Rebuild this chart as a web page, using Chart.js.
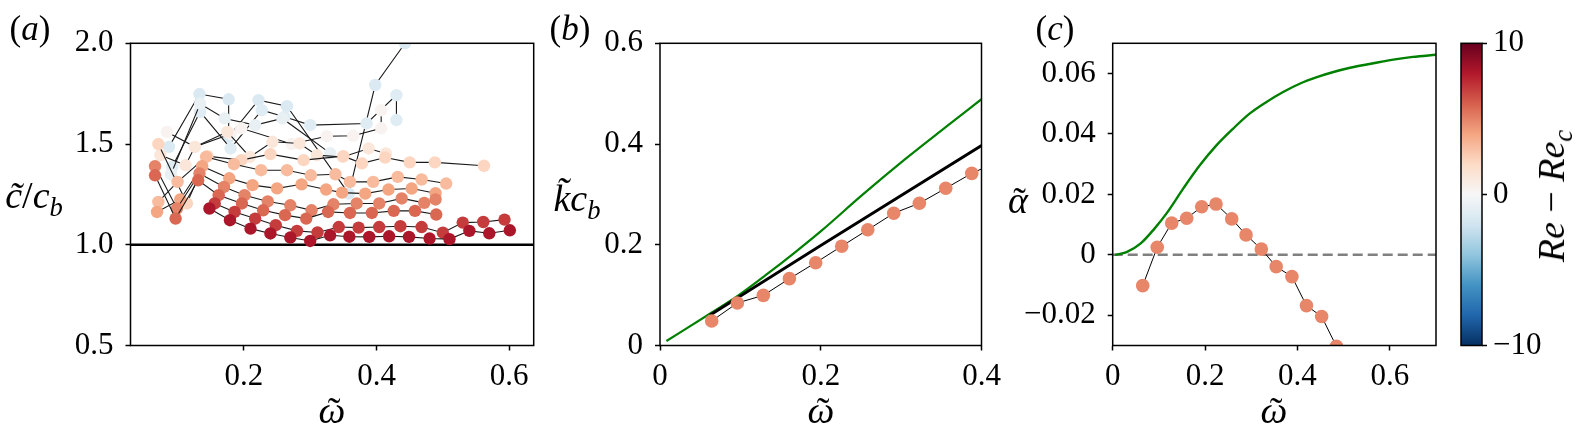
<!DOCTYPE html>
<html>
<head>
<meta charset="utf-8">
<script src="https://cdn.jsdelivr.net/npm/chart.js@4.4.0/dist/chart.umd.min.js"></script>
<style>
html, body { margin: 0; padding: 0; background: #fff; }
#fig { position: relative; width: 1580px; height: 439px; overflow: hidden; font-family: 'Liberation Serif', serif; color: #000; }
.cv { position: absolute; top: 0; height: 439px; }
.lab { position: absolute; transform: translate(-50%, -50%); white-space: nowrap; line-height: 1; }
.panel { font-size: 35px; }
.ax { font-size: 38px; }
.rot { transform: translate(-50%, -50%) rotate(-90deg); }
sub { font-size: 0.7em; vertical-align: -0.3em; line-height: 0; }
.tl { position: relative; display: inline-block; }
.tl .t { position: absolute; left: 58%; top: 0.02em; transform: translateX(-50%); font-style: normal; }
</style>
</head>
<body>
<div id="fig">
  <div class="cv" style="left:0px;width:560px"><canvas id="chartA"></canvas></div>
  <div class="cv" style="left:540px;width:470px"><canvas id="chartB"></canvas></div>
  <div class="cv" style="left:990px;width:470px"><canvas id="chartC"></canvas></div>
  <div class="cv" style="left:1440px;width:140px"><canvas id="chartCb"></canvas></div>

  <div class="lab panel" style="left:30px;top:28px">(<i>a</i>)</div>
  <div class="lab panel" style="left:570px;top:28px">(<i>b</i>)</div>
  <div class="lab panel" style="left:1055px;top:28px">(<i>c</i>)</div>

  <div class="lab ax" style="left:34px;top:195px"><i>c&#771;</i>/<i>c</i><sub><i>b</i></sub></div>
  <div class="lab ax" style="left:577px;top:198px"><i>k&#771;c</i><sub><i>b</i></sub></div>
  <div class="lab ax" style="left:1018px;top:200px"><span class="tl"><i>&#945;</i><span class="t">&#732;</span></span></div>

  <div class="lab ax" style="left:332px;top:410px"><span class="tl"><i>&#969;</i><span class="t">&#732;</span></span></div>
  <div class="lab ax" style="left:821px;top:410px"><span class="tl"><i>&#969;</i><span class="t">&#732;</span></span></div>
  <div class="lab ax" style="left:1274px;top:410px"><span class="tl"><i>&#969;</i><span class="t">&#732;</span></span></div>

  <div class="lab ax rot" style="left:1551px;top:196px"><i>Re</i> &#8722; <i>Re</i><sub><i>c</i></sub></div>
</div>

<script>
// ---- panel (a): phase speed vs frequency, one series per Re - Re_c ----
const aSeriesRe = [8.2, 7.0, 5.8, 5.0, 4.0, 3.2, 2.2, 1.2, 0.3, -0.8, -1.2, -1.5];
const aOmega = [
    [0.148, 0.179, 0.210, 0.240, 0.270, 0.300, 0.330, 0.359, 0.389, 0.419, 0.449, 0.480, 0.510, 0.540, 0.570, 0.601],
    [0.156, 0.186, 0.217, 0.248, 0.280, 0.311, 0.343, 0.373, 0.404, 0.436, 0.468, 0.500, 0.530, 0.561, 0.593],
    [0.066, 0.097, 0.131, 0.162, 0.197, 0.229, 0.262, 0.294, 0.327, 0.360, 0.393, 0.426, 0.458, 0.490],
    [0.066, 0.099, 0.133, 0.170, 0.201, 0.236, 0.270, 0.302, 0.335, 0.370, 0.404, 0.438, 0.472, 0.489],
    [0.069, 0.104, 0.137, 0.178, 0.213, 0.250, 0.287, 0.324, 0.348, 0.383, 0.418, 0.453, 0.489],
    [0.071, 0.100, 0.143, 0.185, 0.226, 0.265, 0.301, 0.338, 0.360, 0.395, 0.432, 0.468, 0.505],
    [0.071, 0.114, 0.145, 0.196, 0.240, 0.290, 0.350, 0.378, 0.413, 0.450, 0.488, 0.562],
    [0.074, 0.112, 0.126, 0.175, 0.209, 0.243, 0.284, 0.310, 0.349, 0.388, 0.414],
    [0.084, 0.126, 0.180, 0.196, 0.272, 0.325, 0.365, 0.407, 0.407],
    [0.090, 0.134, 0.171, 0.217, 0.258, 0.330],
    [0.092, 0.134, 0.180, 0.227, 0.261, 0.300, 0.385, 0.430, 0.430],
    [0.087, 0.133, 0.177, 0.177, 0.222, 0.265, 0.358, 0.398, 0.443]
];
const aSpeed = [
    [1.180, 1.122, 1.080, 1.056, 1.036, 1.019, 1.047, 1.040, 1.039, 1.042, 1.039, 1.031, 1.028, 1.069, 1.057, 1.072],
    [1.205, 1.163, 1.130, 1.097, 1.069, 1.061, 1.088, 1.085, 1.088, 1.092, 1.088, 1.060, 1.110, 1.113, 1.125],
    [1.345, 1.130, 1.320, 1.246, 1.205, 1.171, 1.147, 1.130, 1.163, 1.158, 1.158, 1.168, 1.168, 1.150],
    [1.390, 1.180, 1.354, 1.287, 1.246, 1.215, 1.196, 1.171, 1.201, 1.205, 1.205, 1.230, 1.208, 1.225],
    [1.163, 1.225, 1.390, 1.330, 1.296, 1.280, 1.300, 1.274, 1.259, 1.254, 1.274, 1.279, 1.256],
    [1.213, 1.312, 1.436, 1.400, 1.370, 1.370, 1.345, 1.350, 1.312, 1.312, 1.337, 1.324, 1.304],
    [1.500, 1.205, 1.440, 1.420, 1.450, 1.420, 1.440, 1.404, 1.433, 1.409, 1.409, 1.392],
    [1.445, 1.395, 1.486, 1.560, 1.436, 1.511, 1.503, 1.445, 1.436, 1.478, 1.453],
    [1.560, 1.486, 1.550, 1.578, 1.500, 1.539, 1.541, 1.578, 1.668],
    [1.350, 1.700, 1.627, 1.594, 1.627, 1.455],
    [1.387, 1.660, 1.478, 1.668, 1.635, 1.594, 1.602, 1.743, 1.619],
    [1.486, 1.748, 1.722, 1.536, 1.718, 1.688, 1.254, 1.793, 2.000]
];
const aTickX = [0.2, 0.4, 0.6];
const aTickXLabels = ['0.2', '0.4', '0.6'];
const aTickY = [0.5, 1.0, 1.5, 2.0];
const aTickYLabels = ['0.5', '1.0', '1.5', '2.0'];

// ---- panel (b): wavenumber ----
const bOmega = [0.0643, 0.0962, 0.1286, 0.161, 0.1937, 0.2261, 0.2585, 0.2908, 0.3227, 0.3555, 0.3879, 0.42];
const bK = [0.0487, 0.0844, 0.0996, 0.1327, 0.1644, 0.1972, 0.2297, 0.2626, 0.2824, 0.3121, 0.3418, 0.365];
const bBlackOmega = [0.062, 0.2, 0.4];
const bBlackK = [0.060, 0.1985, 0.397];
const bGreenOmega = [0.008, 0.064, 0.098, 0.131, 0.168, 0.201, 0.251, 0.305, 0.355, 0.4];
const bGreenK = [0.009, 0.065, 0.100, 0.139, 0.185, 0.228, 0.298, 0.370, 0.433, 0.489];
const bTickX = [0, 0.2, 0.4];
const bTickXLabels = ['0', '0.2', '0.4'];
const bTickY = [0, 0.2, 0.4, 0.6];
const bTickYLabels = ['0', '0.2', '0.4', '0.6'];

// ---- panel (c): growth rate ----
const cOmega = [0.065, 0.0964, 0.1277, 0.1602, 0.1927, 0.2237, 0.2577, 0.2887, 0.3218, 0.354, 0.388, 0.4195, 0.4524, 0.4844];
const cAlpha = [-0.0102, 0.0025, 0.0105, 0.0121, 0.0159, 0.0168, 0.0119, 0.0066, 0.0019, -0.0039, -0.0072, -0.0168, -0.0204, -0.0303];
const cGreenOmega = [0.005, 0.03, 0.06, 0.09, 0.117, 0.153, 0.189, 0.225, 0.261, 0.297, 0.333, 0.369, 0.406, 0.442, 0.478, 0.514, 0.55, 0.586, 0.611, 0.65, 0.70];
const cGreenAlpha = [0.0, 0.0009, 0.0037, 0.0086, 0.0138, 0.022, 0.0297, 0.0363, 0.0418, 0.0468, 0.0506, 0.0539, 0.0567, 0.0588, 0.0605, 0.0619, 0.063, 0.064, 0.0647, 0.0655, 0.0662];
const cTickX = [0, 0.2, 0.4, 0.6];
const cTickXLabels = ['0', '0.2', '0.4', '0.6'];
const cTickY = [-0.02, 0, 0.02, 0.04, 0.06];
const cTickYLabels = ['\u22120.02', '0', '0.02', '0.04', '0.06'];

// ---- colorbar ----
const cbRange = [-10, 10];
const cbTicks = [-10, 0, 10];
const cbTickLabels = ['\u221210', '0', '10'];

// RdBu_r, low -> high
const RDBU_R = ['#053061', '#2166ac', '#4393c3', '#92c5de', '#d1e5f0', '#f7f7f7',
                '#fddbc7', '#f4a582', '#d6604d', '#b2182b', '#67001f'];

function hexToRgb(h) {
    return [parseInt(h.slice(1, 3), 16), parseInt(h.slice(3, 5), 16), parseInt(h.slice(5, 7), 16)];
}

function cmap(v) {
    let t = (v - cbRange[0]) / (cbRange[1] - cbRange[0]);
    t = Math.min(1, Math.max(0, t));
    const pos = t * (RDBU_R.length - 1);
    const i = Math.min(Math.floor(pos), RDBU_R.length - 2);
    const f = pos - i;
    const a = hexToRgb(RDBU_R[i]);
    const b = hexToRgb(RDBU_R[i + 1]);
    const c = a.map((x, k) => Math.round(x + (b[k] - x) * f));
    return `rgb(${c[0]},${c[1]},${c[2]})`;
}

const pts = (xs, ys) => xs.map((x, i) => ({ x: x, y: ys[i] }));

Chart.defaults.font.family = "'Liberation Serif', serif";
Chart.defaults.font.size = 31;
Chart.defaults.color = '#000';

// draw the matplotlib style box round the axes
const boxPlugin = {
    id: 'box',
    afterDatasetsDraw(chart) {
        const { ctx, chartArea: a } = chart;
        ctx.save();
        ctx.strokeStyle = '#000';
        ctx.lineWidth = 1.5;
        ctx.strokeRect(a.left, a.top, a.right - a.left, a.bottom - a.top);
        ctx.restore();
    }
};

// horizontal reference line at a y value
const refLinePlugin = {
    id: 'refLine',
    beforeDatasetsDraw(chart, args, opts) {
        if (opts.value === undefined) return;
        const { ctx, chartArea: a } = chart;
        const y = chart.scales.y.getPixelForValue(opts.value);
        ctx.save();
        ctx.strokeStyle = opts.color;
        ctx.lineWidth = opts.width;
        ctx.setLineDash(opts.dash || []);
        ctx.beginPath();
        ctx.moveTo(a.left, y);
        ctx.lineTo(a.right, y);
        ctx.stroke();
        ctx.restore();
    }
};

function scaleCfg(min, max, vals, labels, fitSize, isX, position) {
    return {
        type: 'linear',
        position: position || (isX ? 'bottom' : 'left'),
        min: min,
        max: max,
        afterBuildTicks: s => { s.ticks = vals.map(v => ({ value: v })); },
        afterFit: s => { if (isX) s.height = fitSize; else s.width = fitSize; },
        grid: { display: true, drawOnChartArea: false, drawTicks: true, tickLength: 5, tickWidth: 1.5, tickColor: '#000' },
        border: { display: false },
        ticks: { padding: isX ? 8 : 12, autoSkip: false, maxRotation: 0, callback: (v, i) => labels[i] }
    };
}

function baseOptions(padRight, xScale, yScale, ref) {
    return {
        responsive: true,
        maintainAspectRatio: false,
        animation: false,
        events: [],
        layout: { padding: { top: 43.3, right: padRight, bottom: 0, left: 0 } },
        scales: { x: xScale, y: yScale },
        plugins: { legend: { display: false }, tooltip: { enabled: false }, refLine: ref || {} }
    };
}

const X_AXIS_H = 439 - 345.5;

// panel (a)
new Chart(document.getElementById('chartA'), {
    type: 'scatter',
    data: {
        datasets: aSeriesRe.map((re, i) => ({
            data: pts(aOmega[i], aSpeed[i]),
            showLine: true,
            borderColor: '#1a1a1a',
            borderWidth: 1.1,
            pointRadius: 6.2,
            pointBorderWidth: 0,
            pointBackgroundColor: cmap(re)
        }))
    },
    options: baseOptions(26.3,
        scaleCfg(0.029, 0.637, aTickX, aTickXLabels, X_AXIS_H, true),
        scaleCfg(0.5, 2.0, aTickY, aTickYLabels, 130.5, false),
        { value: 1.0, color: '#000', width: 2.5 }),
    plugins: [refLinePlugin, boxPlugin]
});

// panel (b)
new Chart(document.getElementById('chartB'), {
    type: 'scatter',
    data: {
        datasets: [
            { data: pts(bOmega, bK), showLine: true, borderColor: '#000', borderWidth: 1,
              pointRadius: 6.8, pointBorderWidth: 0, pointBackgroundColor: '#e8866a' },
            { data: pts(bBlackOmega, bBlackK), showLine: true, borderColor: '#000', borderWidth: 2.8, pointRadius: 0 },
            { data: pts(bGreenOmega, bGreenK), showLine: true, borderColor: '#008000', borderWidth: 2.2,
              pointRadius: 0, cubicInterpolationMode: 'monotone' }
        ]
    },
    options: baseOptions(28.5,
        scaleCfg(0, 0.4, bTickX, bTickXLabels, X_AXIS_H, true),
        scaleCfg(0, 0.6, bTickY, bTickYLabels, 120, false)),
    plugins: [boxPlugin]
});

// panel (c)
new Chart(document.getElementById('chartC'), {
    type: 'scatter',
    data: {
        datasets: [
            { data: pts(cOmega, cAlpha), showLine: true, borderColor: '#000', borderWidth: 1,
              pointRadius: 6.8, pointBorderWidth: 0, pointBackgroundColor: '#e8866a' },
            { data: pts(cGreenOmega, cGreenAlpha), showLine: true, borderColor: '#008000', borderWidth: 2.4,
              pointRadius: 0, cubicInterpolationMode: 'monotone' }
        ]
    },
    options: baseOptions(24,
        scaleCfg(0, 0.7, cTickX, cTickXLabels, X_AXIS_H, true),
        scaleCfg(-0.03, 0.07, cTickY, cTickYLabels, 122.7, false),
        { value: 0, color: '#808080', width: 2.5, dash: [10, 5] }),
    plugins: [refLinePlugin, boxPlugin]
});

// colorbar
const cbOptions = baseOptions(0,
    { type: 'category', display: false },
    scaleCfg(cbRange[0], cbRange[1], cbTicks, cbTickLabels, 98, false, 'right'));
cbOptions.layout.padding = { top: 43.3, right: 0, bottom: X_AXIS_H, left: 21 };
cbOptions.scales.y.ticks.padding = 6;

new Chart(document.getElementById('chartCb'), {
    type: 'bar',
    data: {
        labels: ['Re - Re_c'],
        datasets: [{
            data: [cbRange],
            categoryPercentage: 1,
            barPercentage: 1,
            borderWidth: 0,
            backgroundColor: ctx => {
                const area = ctx.chart.chartArea;
                if (!area) return '#ffffff';
                const g = ctx.chart.ctx.createLinearGradient(0, area.bottom, 0, area.top);
                RDBU_R.forEach((c, i) => g.addColorStop(i / (RDBU_R.length - 1), c));
                return g;
            }
        }]
    },
    options: cbOptions,
    plugins: [boxPlugin]
});
</script>
</body>
</html>
